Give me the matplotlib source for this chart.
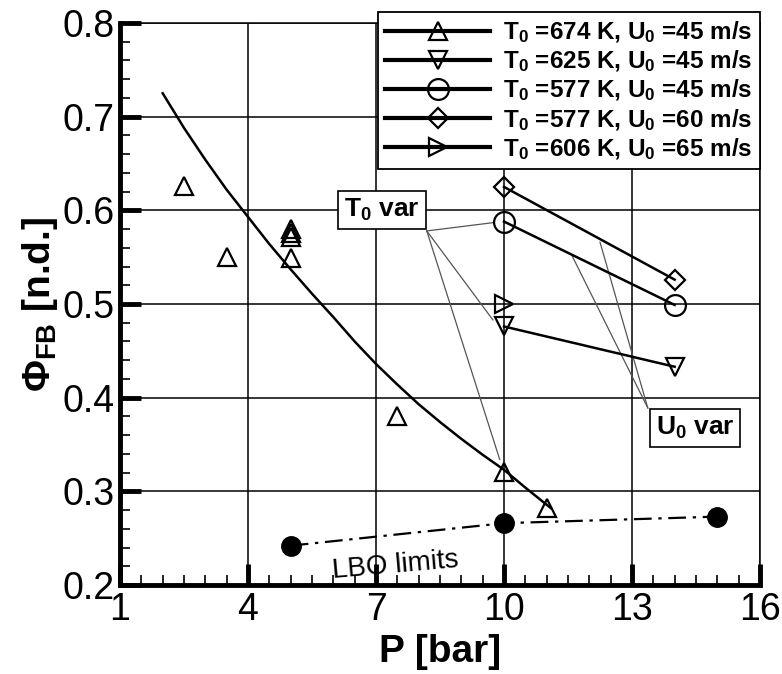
import numpy as np
import matplotlib
matplotlib.use("Agg")
import matplotlib.pyplot as plt
from matplotlib.ticker import FixedLocator, MultipleLocator

plt.rcParams["font.family"] = ["Liberation Sans", "DejaVu Sans"]
plt.rcParams["mathtext.default"] = "regular"

# T0=674 K, U0=45 m/s (open triangles, scattered)
p_674 = [2.5, 3.5, 5.0, 5.0, 5.0, 5.0, 7.5, 10.0, 11.0]
phi_674 = [0.626, 0.550, 0.580, 0.576, 0.572, 0.549, 0.380, 0.321, 0.282]

# trend curve through the T0=674 K data
p_fit = [2.0, 2.5, 3.0, 3.5, 4.0, 4.5, 5.0, 5.5, 6.0, 6.5, 7.0,
         7.5, 8.0, 8.5, 9.0, 9.5, 10.0, 10.5, 11.1]
phi_fit = [0.725, 0.688, 0.654, 0.622, 0.593, 0.564, 0.537, 0.511, 0.486,
           0.460, 0.436, 0.414, 0.393, 0.374, 0.356, 0.339, 0.323, 0.304, 0.282]

p_625 = [10, 14]
phi_625 = [0.476, 0.433]
p_577_45 = [10, 14]
phi_577_45 = [0.588, 0.499]
p_577_60 = [10, 14]
phi_577_60 = [0.625, 0.526]
p_606 = [10]
phi_606 = [0.500]

# lean blow-out limits
p_lbo = [5, 10, 15]
phi_lbo = [0.242, 0.266, 0.273]

x_ticks = [1, 4, 7, 10, 13, 16]
y_ticks = [0.2, 0.3, 0.4, 0.5, 0.6, 0.7, 0.8]

labels = [
    r"T$_0$ =674 K, U$_0$ =45 m/s",
    r"T$_0$ =625 K, U$_0$ =45 m/s",
    r"T$_0$ =577 K, U$_0$ =45 m/s",
    r"T$_0$ =577 K, U$_0$ =60 m/s",
    r"T$_0$ =606 K, U$_0$ =65 m/s",
]

fig = plt.figure(figsize=(7.82, 6.74), dpi=100)
ax = fig.add_axes([120 / 782, 1 - 585 / 674, 640 / 782, 562 / 674])

mk = dict(markerfacecolor="none", markeredgecolor="black", markeredgewidth=1.6)
lw = 1.8

ax.plot(p_fit, phi_fit, color="black", lw=lw, zorder=3)
ax.plot(p_674, phi_674, ls="none", marker="^", ms=13, **mk, zorder=4)
ax.plot(p_625, phi_625, color="black", lw=lw, marker="v", ms=13, **mk, zorder=4)
ax.plot(p_577_45, phi_577_45, color="black", lw=lw, marker="o", ms=15, **mk, zorder=4)
ax.plot(p_577_60, phi_577_60, color="black", lw=lw, marker="D", ms=10, **mk, zorder=4)
ax.plot(p_606, phi_606, ls="none", marker=">", ms=13, **mk, zorder=4)

ax.plot(p_lbo, phi_lbo, color="black", lw=1.6, ls=(0, (8, 3, 1.5, 3)),
        marker="o", ms=14, markerfacecolor="black", zorder=3)
ax.text(7.45, 0.221, "LBO limits", fontsize=20, rotation=5,
        ha="center", va="center")

# annotation leader lines
ann = dict(color="#555555", lw=0.9, zorder=2)
t0_corner = (8.19, 0.578)
for ex, ey in [(9.77, 0.587), (9.74, 0.483), (9.9, 0.334)]:
    ax.plot([t0_corner[0], ex], [t0_corner[1], ey], **ann)
u0_corner = (13.37, 0.389)
for ex, ey in [(11.59, 0.552), (12.25, 0.566)]:
    ax.plot([u0_corner[0], ex], [u0_corner[1], ey], **ann)

box = dict(boxstyle="square,pad=0.22", facecolor="white", edgecolor="black", lw=1.2)
ax.text(7.14, 0.600, r"T$_0$ var", fontsize=19, fontweight="bold",
        ha="center", va="center", bbox=box, zorder=5)
ax.text(14.48, 0.368, r"U$_0$ var", fontsize=19, fontweight="bold",
        ha="center", va="center", bbox=box, zorder=5)

ax.set_xlim(1, 16)
ax.set_ylim(0.2, 0.8)
ax.xaxis.set_major_locator(FixedLocator(x_ticks))
ax.xaxis.set_minor_locator(MultipleLocator(0.5))
ax.yaxis.set_major_locator(FixedLocator(y_ticks))
ax.yaxis.set_minor_locator(MultipleLocator(0.02))
ax.set_yticklabels([f"{v:.1f}" for v in y_ticks])
ax.grid(True, which="major", color="black", lw=1.1)

ax.tick_params(which="major", direction="in", length=15, width=3.5,
               labelsize=27, pad=4)
ax.tick_params(which="minor", direction="in", length=7, width=1.2)
ax.tick_params(axis="x", which="major", pad=5)
for side in ["left", "bottom"]:
    ax.spines[side].set_linewidth(3.5)
for side in ["top", "right"]:
    ax.spines[side].set_linewidth(1.1)

ax.set_xlabel("P [bar]", fontsize=28, fontweight="bold", labelpad=4)
ax.set_ylabel("Φ$_{FB}$ [n.d.]", fontsize=28, fontweight="bold", labelpad=2)

# legend handles
handles = []
for m, ms in [("^", 13), ("v", 13), ("o", 15), ("D", 10), (">", 13)]:
    h, = ax.plot([], [], color="black", lw=3, marker=m, ms=ms, **mk)
    handles.append(h)
leg = fig.legend(handles, labels, loc="upper right",
                 bbox_to_anchor=(760 / 782, 1 - 12 / 674),
                 prop={"weight": "bold", "size": 17.5},
                 numpoints=1, handlelength=4.3, handletextpad=0.55,
                 labelspacing=0.14, borderpad=0.3, borderaxespad=0,
                 fancybox=False, framealpha=1, edgecolor="black")
leg.get_frame().set_linewidth(1.3)

fig.savefig("out.png", dpi=100)
